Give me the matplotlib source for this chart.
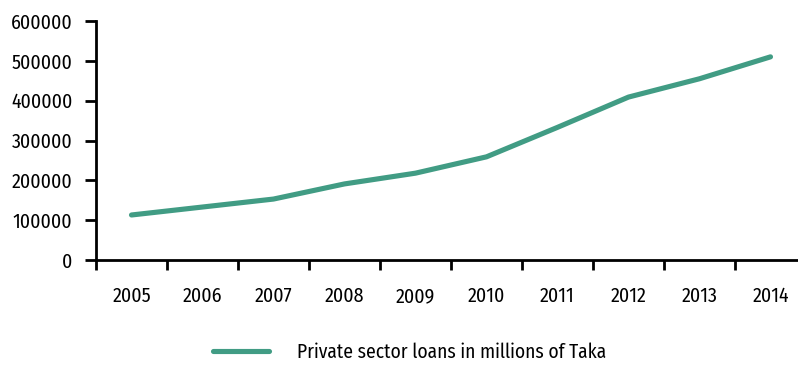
import matplotlib
matplotlib.use('Agg')
import matplotlib.pyplot as plt
from matplotlib.ticker import FixedLocator, NullFormatter

# Data
years = ['2005', '2006', '2007', '2008', '2009', '2010', '2011', '2012', '2013', '2014']
loans = [113000, 133000, 153000, 191000, 218000, 259000, 333000, 409000, 455000, 510000]
yticks = [0, 100000, 200000, 300000, 400000, 500000, 600000]

plt.rcParams['font.family'] = ['Fira Sans Condensed', 'DejaVu Sans']
lineColor = '#419c84'

fig = plt.figure(figsize=(7.98, 3.65), dpi=100)
ax = fig.add_axes([96/798, 1 - 260/365, 1 - 96/798, (260 - 21)/365])

xs = list(range(len(years)))
ax.plot(xs, loans, color=lineColor, lw=3.7, solid_capstyle='round',
        label='Private sector loans in millions of Taka')

ax.set_ylim(0, 600000)
ax.set_xlim(-0.5, 9.5 - 8/71.1)
ax.set_yticks(yticks)
ax.set_yticklabels([str(v) for v in yticks], fontsize=14.3)

# category labels centred, ticks on the boundaries
ax.set_xticks(xs)
ax.set_xticklabels(years, fontsize=14.3)
ax.tick_params(axis='x', which='major', length=0, pad=19)
ax.xaxis.set_minor_locator(FixedLocator([i - 0.5 for i in range(len(years) + 1)]))
ax.xaxis.set_minor_formatter(NullFormatter())
ax.tick_params(axis='x', which='minor', length=7, width=2, direction='out')
ax.tick_params(axis='y', length=8, width=2, direction='out', pad=9)

for side in ['top', 'right']:
    ax.spines[side].set_visible(False)
for side in ['left', 'bottom']:
    ax.spines[side].set_linewidth(2)

fig.legend(loc='center', bbox_to_anchor=(0.513, 1 - 352/365), frameon=False,
           fontsize=14, handlelength=2.9, handletextpad=1.4)

fig.savefig('out.png', dpi=100)
